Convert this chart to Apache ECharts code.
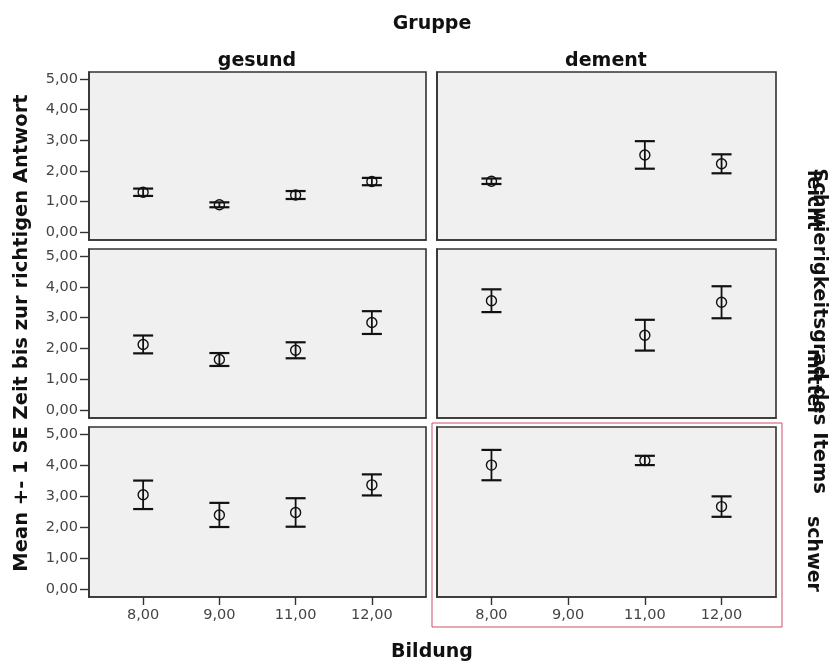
<!DOCTYPE html>
<html>
<head>
<meta charset="utf-8">
<script src="https://cdn.jsdelivr.net/npm/echarts@6/dist/echarts.min.js"></script>
<style>
  html, body { margin: 0; padding: 0; background: #ffffff; }
  #chart { width: 834px; height: 663px; }
</style>
</head>
<body>
<div id="chart"></div>
<script>
// Bildung categories (x) and facet labels
const categories = ['8,00', '9,00', '11,00', '12,00'];
const groups = ['gesund', 'dement'];
const levels = ['leicht', 'mittel', 'schwer'];
const yTicks = [0, 1, 2, 3, 4, 5];

// Mean and standard error per panel (null = no cases)
const gesundLeichtMean = [1.30, 0.89, 1.21, 1.65];
const gesundLeichtSE   = [0.12, 0.08, 0.13, 0.12];
const dementLeichtMean = [1.66, null, 2.52, 2.23];
const dementLeichtSE   = [0.09, null, 0.45, 0.31];
const gesundMittelMean = [2.13, 1.64, 1.94, 2.84];
const gesundMittelSE   = [0.29, 0.21, 0.26, 0.37];
const dementMittelMean = [3.55, null, 2.43, 3.50];
const dementMittelSE   = [0.37, null, 0.50, 0.52];
const gesundSchwerMean = [3.04, 2.39, 2.47, 3.36];
const gesundSchwerSE   = [0.46, 0.39, 0.46, 0.34];
const dementSchwerMean = [4.00, null, 4.15, 2.66];
const dementSchwerSE   = [0.49, null, 0.15, 0.33];

const panels = [
  [[gesundLeichtMean, gesundLeichtSE], [dementLeichtMean, dementLeichtSE]],
  [[gesundMittelMean, gesundMittelSE], [dementMittelMean, dementMittelSE]],
  [[gesundSchwerMean, gesundSchwerSE], [dementSchwerMean, dementSchwerSE]]
];

const FONT = 'DejaVu Sans';
const rowTops = [72, 249, 427];
const rowHeights = [168, 169, 170];
const colLefts = [89, 437];
const colWidths = [337, 339];

const fmt = v => v.toFixed(2).replace('.', ',');

const grids = [], xAxes = [], yAxes = [], series = [];

// Error bar: vertical line from mean-SE to mean+SE, two caps and a hollow circle at the mean
function renderBar(params, api) {
  const x = api.value(0), m = api.value(1), se = api.value(2);
  const top = api.coord([x, m + se]);
  const bot = api.coord([x, m - se]);
  const mid = api.coord([x, m]);
  const capHalf = 10;
  const stroke = { stroke: '#111', lineWidth: 2.2 };
  return {
    type: 'group',
    children: [
      { type: 'line', shape: { x1: top[0], y1: top[1], x2: bot[0], y2: bot[1] }, style: { stroke: '#111', lineWidth: 1.8 } },
      { type: 'line', shape: { x1: top[0] - capHalf, y1: top[1], x2: top[0] + capHalf, y2: top[1] }, style: stroke },
      { type: 'line', shape: { x1: bot[0] - capHalf, y1: bot[1], x2: bot[0] + capHalf, y2: bot[1] }, style: stroke },
      { type: 'circle', shape: { cx: mid[0], cy: mid[1], r: 5 }, style: { fill: 'none', stroke: '#111', lineWidth: 1.4 } }
    ]
  };
}

for (let r = 0; r < 3; r++) {
  for (let c = 0; c < 2; c++) {
    const idx = grids.length;
    grids.push({
      left: colLefts[c], top: rowTops[r], width: colWidths[c], height: rowHeights[r],
      show: true, backgroundColor: '#f0f0f0', borderColor: '#333333', borderWidth: 1.6
    });
    const bottomRow = r === 2;
    xAxes.push({
      type: 'value', gridIndex: idx, min: -0.71, max: 3.71,
      axisLine: { show: true, onZero: false, lineStyle: { color: '#333333', width: 1.6 } },
      axisTick: { show: bottomRow, length: 8, customValues: [0, 1, 2, 3], lineStyle: { color: '#333', width: 1.4 } },
      axisLabel: {
        show: bottomRow, customValues: [0, 1, 2, 3], margin: 11,
        formatter: v => categories[Math.round(v)], color: '#444', fontFamily: FONT, fontSize: 14.5
      },
      splitLine: { show: false }
    });
    const leftCol = c === 0;
    yAxes.push({
      type: 'value', gridIndex: idx, min: -0.26, max: 5.23,
      axisLine: { show: true, onZero: false, lineStyle: { color: '#333333', width: 1.6 } },
      axisTick: { show: leftCol, length: 9, customValues: yTicks, lineStyle: { color: '#333', width: 1.4 } },
      axisLabel: {
        show: leftCol, customValues: yTicks, margin: 11,
        formatter: fmt, color: '#444', fontFamily: FONT, fontSize: 14.5
      },
      splitLine: { show: false }
    });
    const [means, ses] = panels[r][c];
    const data = [];
    means.forEach((m, i) => { if (m !== null) data.push([i, m, ses[i]]); });
    series.push({
      type: 'custom', xAxisIndex: idx, yAxisIndex: idx,
      renderItem: renderBar, data: data, silent: true, clip: false
    });
  }
}

const boldText = (text, x, y, size, rot) => ({
  type: 'text', x: x, y: y, rotation: rot || 0,
  style: { text: text, font: 'bold ' + size + 'px "' + FONT + '"', fill: '#111', align: 'center', verticalAlign: 'middle' }
});

const graphic = [
  boldText('Gruppe', 432, 24, 19),
  boldText(groups[0], 257, 61, 19),
  boldText(groups[1], 606, 61, 19),
  boldText('Bildung', 432, 652, 19),
  boldText('Mean +- 1 SE Zeit bis zur richtigen Antwort', 22, 333, 19.5, Math.PI / 2),
  boldText('Schwierigkeitsgrad des Items', 819, 331, 19.5, -Math.PI / 2),
  boldText(levels[0], 813, 200, 19, -Math.PI / 2),
  boldText(levels[1], 813, 381, 19, -Math.PI / 2),
  boldText(levels[2], 813, 554, 19, -Math.PI / 2),
  { type: 'rect', shape: { x: 432, y: 423, width: 350, height: 204 },
    style: { fill: 'none', stroke: '#c9506b', lineWidth: 1 } }
];

const chart = echarts.init(document.getElementById('chart'), null, { renderer: 'canvas' });
chart.setOption({
  animation: false,
  backgroundColor: '#ffffff',
  grid: grids,
  xAxis: xAxes,
  yAxis: yAxes,
  series: series,
  graphic: graphic
});
</script>
</body>
</html>
